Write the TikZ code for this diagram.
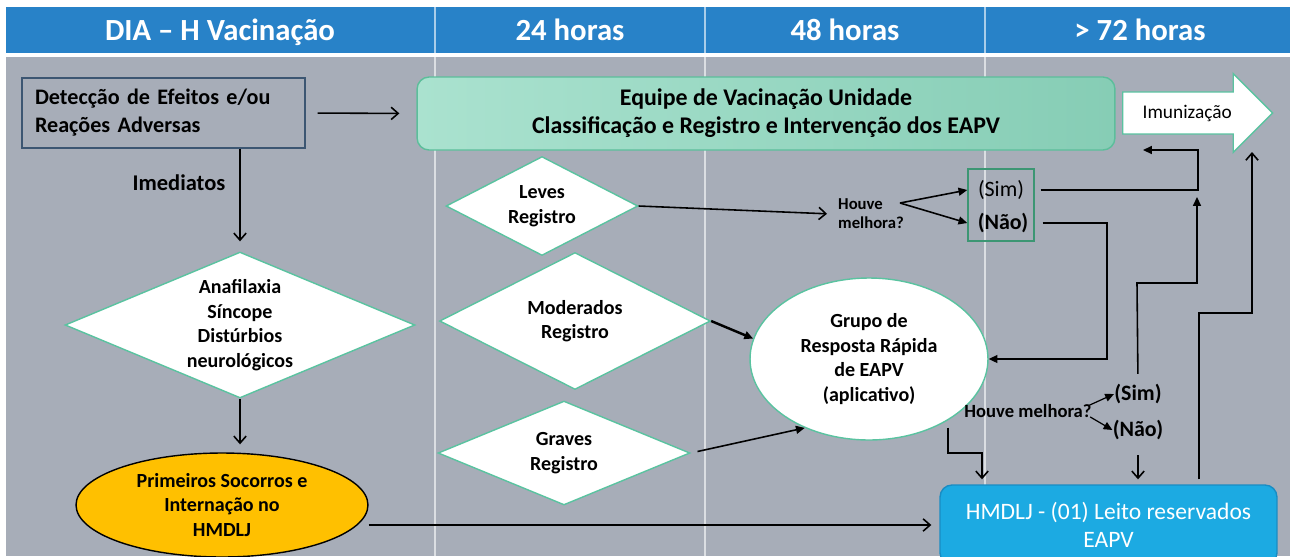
\documentclass[tikz,border=0pt]{standalone}
\usepackage{fontspec}
\setmainfont{Carlito}
\usetikzlibrary{shapes.geometric,shapes.arrows,arrows.meta}

\definecolor{hdrblue}{RGB}{40,130,200}
\definecolor{bodygray}{RGB}{167,173,184}
\definecolor{mintA}{RGB}{170,226,207}
\definecolor{mintB}{RGB}{134,205,181}
\definecolor{mintline}{RGB}{92,190,155}
\definecolor{diamline}{RGB}{90,195,160}
\definecolor{boxline}{RGB}{60,86,114}
\definecolor{firstaid}{RGB}{255,192,0}
\definecolor{hospblue}{RGB}{28,170,226}
\definecolor{hospline}{RGB}{25,140,195}
\definecolor{snline}{RGB}{60,150,115}

\begin{document}
\begin{tikzpicture}[
    x=0.02cm, y=-0.02cm,
    hdr/.style={text=white, anchor=base, font=\fontsize{17.5}{20}\selectfont\bfseries},
    bodytxt/.style={align=center, font=\fontsize{11.4}{14}\selectfont\bfseries},
    decision/.style={diamond, draw=diamline, fill=white, line width=0.8pt, inner sep=0pt, bodytxt},
    linearr/.style={-{Straight Barb[length=4pt,width=7pt]}, line width=0.9pt},
    fillarr/.style={-{Triangle[length=5pt,width=4.5pt]}, line width=0.9pt},
  ]
  \useasboundingbox (0,0) rectangle (1296,556);

  % background and columns
  \fill[white] (0,0) rectangle (1296,556);
  \fill[hdrblue] (6,7) rectangle (1290,53);
  \fill[bodygray] (6,57) rectangle (1290,556);
  \foreach \cx in {435,705,985}
    \draw[white, opacity=0.6, line width=0.6pt] (\cx,7) -- (\cx,556);

  \node[hdr] (hdia) at (220,40) {DIA – H Vacinação};
  \node[hdr] (h24) at (570,40) {24 horas};
  \node[hdr] (h48) at (845,40) {48 horas};
  \node[hdr] (h72) at (1140,40) {> 72 horas};

  % first column
  \node[draw=boxline, line width=0.8pt, minimum width=5.66cm, minimum height=1.4cm,
    text width=5.14cm, align=left, font=\fontsize{12.6}{16}\selectfont\bfseries]
    (det) at (163.5,113) {Detecção de Efeitos e/ou\\Reações Adversas};
  \node[bodytxt, font=\fontsize{12.8}{14}\selectfont\bfseries] (imed) at (179,183) {Imediatos};
  \node[decision, minimum width=7cm, minimum height=2.92cm, shape aspect=2.4]
    (ana) at (240,325) {Anafilaxia\\Síncope\\Distúrbios\\neurológicos};
  \node[ellipse, draw=black, line width=0.8pt, fill=firstaid, minimum width=5.84cm,
    minimum height=2.08cm, inner sep=0pt, bodytxt]
    (prim) at (222,505) {Primeiros Socorros e\\Internação no\\HMDLJ};

  % top band
  \node[draw=mintline, line width=0.8pt, rounded corners=0.24cm, left color=mintA,
    right color=mintB, minimum width=13.96cm, minimum height=1.46cm, align=center,
    font=\fontsize{13.6}{16}\selectfont\bfseries]
    (equipe) at (766,113.5) {Equipe de Vacinação Unidade\\Classificação e Registro e Intervenção dos EAPV};
  \node[single arrow, draw=diamline, fill=white, line width=0.8pt, minimum height=3cm,
    single arrow head extend=0.37cm, inner ysep=0.24cm, anchor=tail,
    font=\fontsize{11}{12}\selectfont] (imun) at (1122,113) {Imunização};

  % classification
  \node[decision, minimum width=3.84cm, minimum height=1.98cm, shape aspect=1.94]
    (leves) at (542,206) {Leves\\Registro};
  \node[decision, minimum width=5.42cm, minimum height=2.74cm, shape aspect=1.98]
    (mod) at (575,321) {Moderados\\Registro};
  \node[decision, minimum width=5.04cm, minimum height=2.08cm, shape aspect=2.42]
    (grav) at (564,453) {Graves\\Registro};
  \node[ellipse, draw=diamline, fill=white, line width=0.8pt, minimum width=4.76cm,
    minimum height=3.24cm, inner sep=0pt, bodytxt]
    (grupo) at (869,359) {Grupo de\\Resposta Rápida\\de EAPV\\(aplicativo)};

  % follow up
  \node[align=left, font=\fontsize{9.5}{10.8}\selectfont\bfseries] (hm1) at (871,214) {Houve\\melhora?};
  \coordinate (fork1) at (900,203);
  \node[draw=snline, line width=0.8pt, minimum width=1.32cm, minimum height=1.44cm] (sn) at (1001,205) {};
  \node[font=\fontsize{12.5}{13}\selectfont] (sim1) at (1001,190) {(Sim)};
  \node[font=\fontsize{12.5}{13}\selectfont\bfseries] (nao1) at (1003,223) {(Não)};
  \node[inner sep=0pt, font=\fontsize{10.6}{12}\selectfont\bfseries] (hm2) at (1028,411) {Houve melhora?};
  \node[inner sep=0pt, font=\fontsize{12.5}{12}\selectfont\bfseries] (sim2) at (1138,394) {(Sim)};
  \node[inner sep=0pt, font=\fontsize{12.5}{12}\selectfont\bfseries] (nao2) at (1138,430) {(Não)};
  \node[draw=hospline, fill=hospblue, line width=0.8pt, rounded corners=0.24cm,
    minimum width=6.74cm, minimum height=1.6cm, align=center, text=white,
    font=\fontsize{13.4}{16}\selectfont]
    (hmdlj) at (1108.5,525) {HMDLJ - (01) Leito reservados\\EAPV};

  \coordinate (back1) at (1143,150);
  \coordinate (up1) at (1197,197);
  \coordinate (g1) at (982,453);
  \coordinate (b1) at (1199,313);
  \coordinate (b2) at (1252,313);
  \coordinate (up2) at (1252,152);

  % connectors
  \draw[linearr, shorten <=0.24cm, shorten >=0.34cm] (det.east) -- (equipe.west);
  \draw[linearr, shorten >=0.2cm] (det.south -| ana.north) -- (ana.north);
  \draw[linearr, shorten >=0.16cm] (ana.south) -- (ana.south |- prim.north);
  \draw[linearr, shorten >=0.16cm] (prim.east |- hmdlj.west) -- (hmdlj.west);
  \draw[linearr, shorten >=0.1cm] (leves.east) -- (hm1.west);
  \draw[fillarr] (fork1) -- (sn.west |- sim1);
  \draw[fillarr] (fork1) -- (sn.west |- nao1);
  \draw[fillarr, shorten <=0.12cm] (sn.east |- sim1) -- (1198,190) -- (1198,150) -- (back1);
  \draw[fillarr, shorten <=0.16cm] (sn.east |- nao1) -- (1107,223) |- (grupo.east);
  \draw[fillarr, line width=1.4pt] (mod.east) -- (grupo.170);
  \draw[fillarr, shorten <=0.14cm] (grav.east) -- (grupo.227);
  \draw[fillarr, line width=0.7pt, shorten <=-0.06cm] (hm2.north east) -- (sim2.west);
  \draw[fillarr, line width=0.7pt, shorten <=-0.04cm] (hm2.south east) -- (nao2.west);
  \draw[fillarr, shorten <=0.2cm] (sim2.north) -- (1137,283) -- (1197,283) -- (up1);
  \draw[linearr, shorten <=0.3cm, shorten >=0.1cm] (nao2.south) -- (nao2 |- hmdlj.north);
  \draw[linearr, shorten <=0.14cm, shorten >=0.1cm] (grupo.-38) |- (g1) -- (g1 |- hmdlj.north);
  \draw[linearr, shorten <=0.1cm] (b1 |- hmdlj.north) -- (b1) -- (b2) -- (up2);
\end{tikzpicture}
\end{document}
